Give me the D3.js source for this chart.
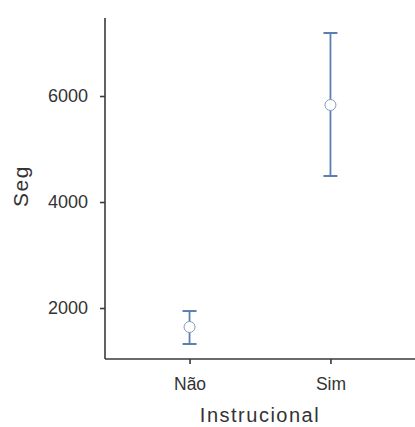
<!DOCTYPE html>
<html>
<head>
<meta charset="utf-8">
<script src="https://cdn.jsdelivr.net/npm/d3@7"></script>
<style>
  body { margin: 0; background: #fff; overflow: hidden; }
  svg { display: block; }
  text { font-family: "Liberation Sans", Arial, sans-serif; fill: #333; }
</style>
</head>
<body>
<div id="chart"></div>
<script>
// Data.
var categories = ["Não", "Sim"];
var means = [1642, 5830];
var lower = [1321, 4491];
var upper = [1943, 7189];
var yTicks = [2000, 4000, 6000];

var width = 415, height = 427;
var plotLeft = 105, plotRight = 415, plotTop = 18, plotBottom = 359;
var barColor = "#5b7fb1";
var axisColor = "#3a3a3a";

var svg = d3.select("#chart").append("svg")
    .attr("width", width)
    .attr("height", height);

var x = d3.scalePoint()
    .domain(categories)
    .range([plotLeft, plotRight])
    .padding(0.6);

var y = d3.scaleLinear()
    .domain([1038, 7472])
    .range([plotBottom, plotTop]);

// Axes.
var yAxis = svg.append("g")
    .attr("transform", "translate(" + plotLeft + ",0)")
    .call(d3.axisLeft(y).tickValues(yTicks).tickFormat(d3.format("d"))
        .tickSize(5).tickPadding(12).tickSizeOuter(0));
var xAxis = svg.append("g")
    .attr("transform", "translate(0," + plotBottom + ")")
    .call(d3.axisBottom(x).tickSize(5).tickPadding(14).tickSizeOuter(0));

[yAxis, xAxis].forEach(function(g) {
    g.select(".domain").attr("stroke", axisColor).attr("stroke-width", 1.6);
    g.selectAll(".tick line").attr("stroke", axisColor).attr("stroke-width", 1.6);
    g.selectAll(".tick text").style("font-size", "18px").attr("fill", "#333")
        .style("font-family", "'Liberation Sans', Arial, sans-serif");
});
xAxis.selectAll(".tick text").style("font-size", "17.5px");
// full-length domains
yAxis.select(".domain").attr("d", "M0," + plotTop + "V" + plotBottom);
xAxis.select(".domain").attr("d", "M" + plotLeft + ",0H" + plotRight);

// Axis titles.
svg.append("text")
    .attr("transform", "translate(28,186) rotate(-90)")
    .attr("text-anchor", "middle")
    .style("font-size", "21px")
    .style("letter-spacing", "1.5px")
    .text("Seg");
svg.append("text")
    .attr("x", 260)
    .attr("y", 422)
    .attr("text-anchor", "middle")
    .style("font-size", "20px")
    .style("letter-spacing", "1.5px")
    .text("Instrucional");

// Error bars.
var rows = categories.map(function(c, i) {
    return { cat: c, mean: means[i], lo: lower[i], hi: upper[i] };
});
var bars = svg.append("g").selectAll("g").data(rows).enter().append("g");
bars.append("line")
    .attr("x1", function(d) { return x(d.cat); })
    .attr("x2", function(d) { return x(d.cat); })
    .attr("y1", function(d) { return y(d.lo); })
    .attr("y2", function(d) { return y(d.hi); })
    .attr("stroke", barColor).attr("stroke-width", 1.8);
bars.selectAll(".cap").data(function(d) { return [d.lo, d.hi].map(function(v) { return { cat: d.cat, v: v }; }); })
    .enter().append("line")
    .attr("class", "cap")
    .attr("x1", function(d) { return x(d.cat) - 7; })
    .attr("x2", function(d) { return x(d.cat) + 7; })
    .attr("y1", function(d) { return y(d.v); })
    .attr("y2", function(d) { return y(d.v); })
    .attr("stroke", barColor).attr("stroke-width", 2);
bars.append("circle")
    .attr("cx", function(d) { return x(d.cat); })
    .attr("cy", function(d) { return y(d.mean); })
    .attr("r", 5.5)
    .attr("fill", "#fff")
    .attr("stroke", "#8a9cb8").attr("stroke-width", 1);
</script>
</body>
</html>
